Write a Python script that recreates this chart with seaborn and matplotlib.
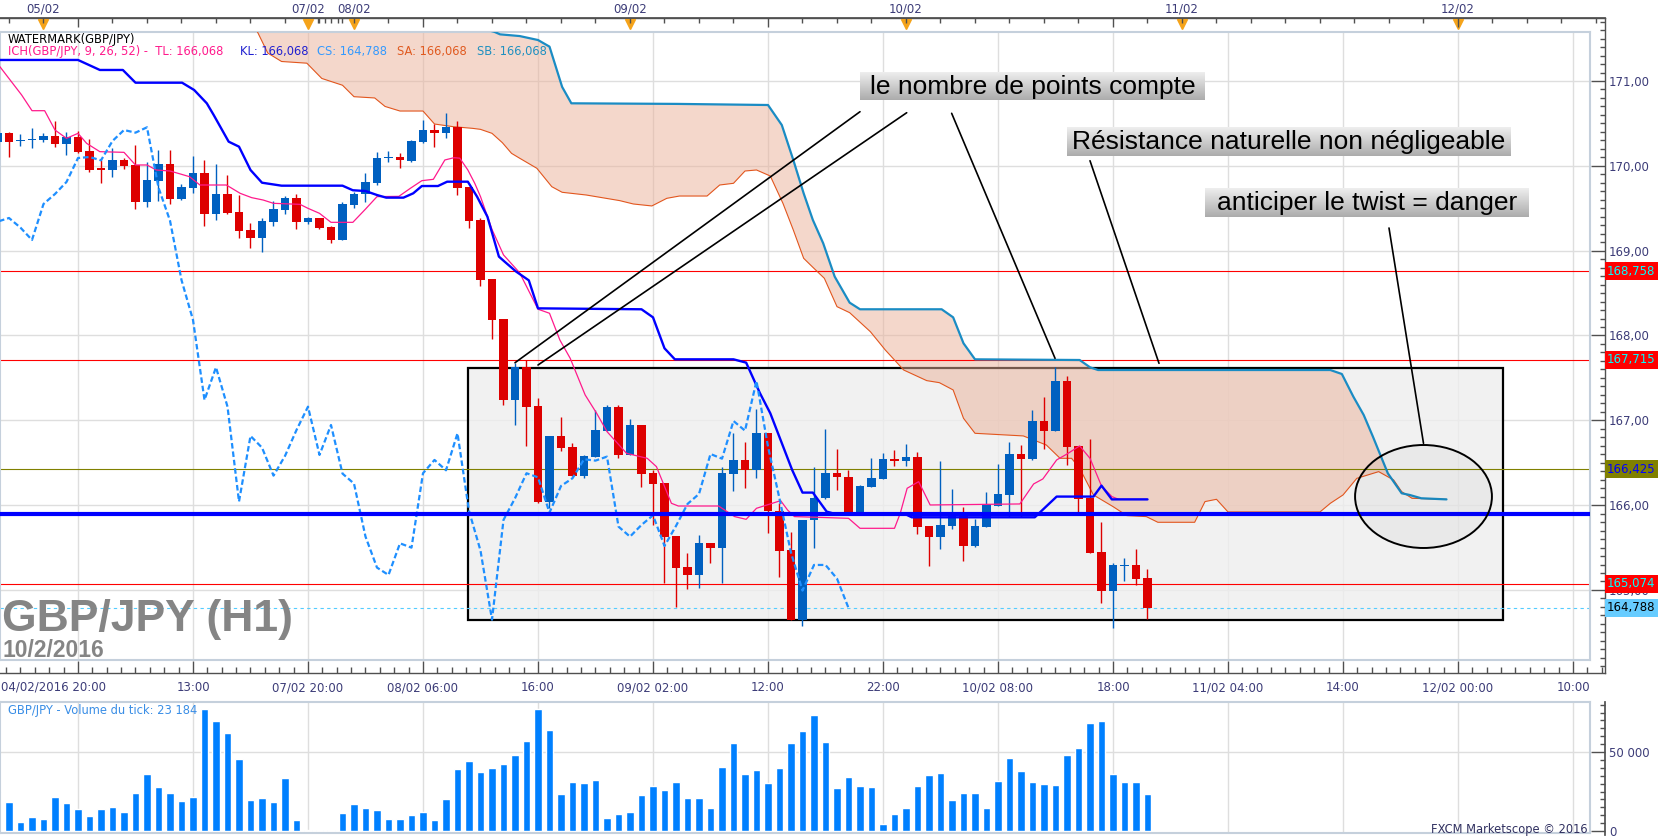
import numpy as np
import seaborn as sns
import matplotlib
matplotlib.use("Agg")
import matplotlib.pyplot as plt
from matplotlib import transforms
from matplotlib.patches import Rectangle, Ellipse
from matplotlib.colors import LinearSegmentedColormap
from matplotlib.ticker import FixedLocator, MultipleLocator, FuncFormatter

# ---- hourly candles GBP/JPY (bar index 0 = 04/02 20:00) ----
opens = [170.277, 170.383, 170.289, 170.301, 170.309, 170.352, 170.261, 170.340, 170.175, 169.963,
         169.951, 170.069, 170.010, 169.578, 169.825, 170.022, 169.613, 169.743, 169.916, 169.436,
         169.668, 169.456, 169.244, 169.153, 169.342, 169.483, 169.621, 169.342, 169.385, 169.279,
         169.126, 169.542, 169.664, 169.798, 170.088, 170.104, 170.061, 170.281, 170.422, 170.391,
         170.454, 169.751, 169.362, 168.666, 168.195, 167.240, 167.625, 167.169, 166.042, 166.816,
         166.686, 166.348, 166.572, 166.878, 167.161, 166.592, 166.945, 166.376, 166.258, 165.637,
         165.272, 165.177, 165.550, 165.499, 166.372, 166.533, 166.411, 166.847, 165.932, 165.472,
         164.647, 165.826, 166.081, 166.376, 166.328, 165.912, 166.218, 166.313, 166.545, 166.525,
         166.572, 165.755, 165.629, 165.755, 165.884, 165.519, 165.747, 165.990, 166.124, 166.603,
         166.548, 166.992, 166.878, 167.464, 166.698, 166.089, 165.452, 164.993, 165.283, 165.295,
         165.142]
highs = [170.395, 170.395, 170.371, 170.442, 170.391, 170.529, 170.403, 170.411, 170.312, 170.069,
         170.206, 170.096, 170.246, 170.049, 170.187, 170.191, 169.786, 170.116, 170.069, 170.022,
         169.892, 169.656, 169.322, 169.381, 169.586, 169.648, 169.668, 169.401, 169.389, 169.291,
         169.578, 169.696, 169.916, 170.167, 170.175, 170.151, 170.309, 170.540, 170.493, 170.619,
         170.528, 169.755, 169.381, 168.670, 168.200, 167.672, 167.711, 167.260, 166.820, 167.036,
         166.729, 166.590, 167.122, 167.181, 167.181, 167.012, 166.950, 166.415, 166.262, 165.640,
         165.440, 165.649, 165.552, 166.454, 166.847, 166.741, 167.130, 166.850, 166.022, 165.688,
         165.830, 166.454, 166.898, 166.662, 166.415, 166.238, 166.560, 166.611, 166.650, 166.721,
         166.627, 165.760, 166.521, 166.191, 165.983, 165.837, 166.156, 166.486, 166.745, 166.709,
         167.122, 167.275, 167.629, 167.523, 166.700, 166.784, 165.802, 165.323, 165.378, 165.484,
         165.248]
lows = [170.246, 170.108, 170.238, 170.214, 170.285, 170.226, 170.128, 170.155, 169.931, 169.802,
        169.872, 169.963, 169.495, 169.519, 169.586, 169.550, 169.597, 169.684, 169.291, 169.362,
        169.428, 169.153, 169.036, 168.988, 169.291, 169.436, 169.256, 169.318, 169.256, 169.094,
        169.120, 169.507, 169.578, 169.774, 170.049, 169.971, 170.041, 170.270, 170.226, 170.332,
        169.656, 169.271, 168.584, 167.959, 167.181, 166.945, 166.698, 166.022, 165.963, 166.643,
        166.340, 166.325, 166.570, 166.875, 166.560, 166.588, 166.218, 165.767, 165.079, 164.804,
        165.008, 165.028, 165.315, 165.079, 166.167, 166.207, 166.325, 165.668, 165.157, 164.647,
        164.576, 165.492, 166.078, 166.179, 165.908, 165.908, 166.210, 166.308, 166.462, 166.462,
        165.660, 165.283, 165.484, 165.723, 165.346, 165.511, 165.745, 165.988, 165.857, 165.857,
        166.533, 166.666, 166.876, 166.474, 165.920, 165.440, 164.851, 164.550, 165.110, 165.059,
        164.655]
closes = [170.383, 170.285, 170.305, 170.320, 170.352, 170.261, 170.336, 170.167, 169.951, 169.955,
          170.069, 170.002, 169.578, 169.833, 170.022, 169.613, 169.751, 169.916, 169.436, 169.668,
          169.448, 169.236, 169.153, 169.350, 169.491, 169.621, 169.342, 169.385, 169.271, 169.126,
          169.550, 169.668, 169.810, 170.092, 170.104, 170.065, 170.293, 170.422, 170.391, 170.454,
          169.743, 169.354, 168.654, 168.183, 167.240, 167.625, 167.161, 166.042, 166.816, 166.678,
          166.348, 166.580, 166.886, 167.161, 166.592, 166.945, 166.372, 166.254, 165.629, 165.264,
          165.177, 165.550, 165.499, 166.376, 166.533, 166.411, 166.847, 165.932, 165.464, 164.650,
          165.826, 166.081, 166.376, 166.328, 165.912, 166.226, 166.317, 166.541, 166.525, 166.572,
          165.747, 165.629, 165.767, 165.880, 165.519, 165.755, 166.014, 166.132, 166.603, 166.548,
          166.992, 166.878, 167.464, 166.690, 166.077, 165.440, 164.993, 165.295, 165.295, 165.134,
          164.788]
volumes = [24700, 18360, 5700, 8860, 7600, 21500, 17700, 13900, 9500, 13900,
           15200, 12000, 24100, 36100, 27900, 24100, 19000, 21500, 77200, 69600,
           62000, 45600, 19600, 20900, 18400, 33500, 7000, 400, 400, 400,
           11400, 17100, 14600, 13300, 7600, 7600, 10100, 12000, 7000, 20300,
           39200, 44300, 37300, 39900, 42400, 48100, 57000, 77200, 63900, 23400,
           31000, 30400, 32300, 8200, 10800, 12000, 22800, 28500, 26000, 31000,
           20900, 20900, 14600, 40500, 55700, 36100, 38600, 30400, 39900, 55700,
           63300, 73400, 56300, 27200, 34200, 28500, 27900, 4400, 10800, 14600,
           28500, 35400, 36700, 19600, 24100, 24100, 14600, 31650, 46200, 38000,
           31000, 29750, 29100, 48100, 52500, 68400, 69600, 36100, 31000, 31000,
           23184]

# ---- ichimoku lines (vertices) ----
tenkan_x = [0.2, 2.1, 3.0, 4.1, 5.0, 6.0, 7.0, 7.75, 8.9, 11.0, 12.0, 13.0, 13.8, 15.0, 16.0, 16.7,
            17.6, 19.9, 21.1, 22.1, 23.1, 24.0, 26.3, 27.0, 28.0, 29.0, 30.9, 32.0, 33.0, 34.9, 35.9,
            36.9, 37.9, 38.9, 39.7, 40.2, 40.9, 41.5, 42.0, 43.0, 44.0, 45.4, 47.0, 48.0, 48.9, 49.8,
            51.1, 52.1, 53.0, 54.7, 56.5, 57.3, 58.6, 59.2, 62.7, 64.1, 65.1, 66.0, 68.1, 68.7, 69.3,
            74.0, 75.0, 78.0, 78.5, 79.1, 80.1, 81.1, 88.9, 90.1, 90.9, 92.1, 93.0, 94.1, 95.0, 96.0,
            96.9, 97.5, 100.0]
tenkan_y = [171.17, 170.835, 170.65, 170.65, 170.422, 170.324, 170.383, 170.265, 170.167, 170.159,
            170.01, 170.01, 169.951, 169.939, 169.90, 169.872, 169.774, 169.774, 169.676, 169.625,
            169.597, 169.558, 169.546, 169.499, 169.44, 169.334, 169.334, 169.49, 169.637, 169.64,
            169.735, 169.825, 169.841, 170.069, 170.096, 170.09, 169.951, 169.794, 169.637, 169.25,
            168.95, 168.74, 168.31, 168.262, 167.947, 167.731, 167.299, 167.083, 166.867, 166.611,
            166.552, 166.454, 166.022, 165.99, 165.99, 165.865, 165.833, 165.963, 166.053, 165.943,
            165.865, 165.845, 165.727, 165.727, 165.904, 166.199, 166.277, 166.002, 166.014, 166.25,
            166.309, 166.533, 166.603, 166.698, 166.552, 166.226, 166.101, 166.068, 166.068]
kijun_x = [0.2, 7.0, 8.9, 10.9, 12.0, 16.05, 17.1, 18.2, 18.8, 20.1, 21.0, 22.0, 23.0, 24.7, 30.0,
           30.9, 32.0, 33.0, 33.8, 35.3, 36.15, 36.9, 38.3, 39.1, 40.9, 41.7, 42.6, 43.6, 44.1, 45.1,
           46.2, 47.0, 56.0, 57.0, 58.0, 58.9, 64.0, 65.1, 66.3, 67.2, 69.1, 70.0, 70.9, 72.1, 73.0,
           79.0, 79.5, 90.2, 91.0, 92.1, 95.3, 96.0, 96.9, 100.0]
kijun_y = [171.248, 171.248, 171.13, 171.13, 170.98, 170.98, 170.894, 170.737, 170.599, 170.285,
           170.226, 169.951, 169.801, 169.766, 169.766, 169.712, 169.703, 169.656, 169.625, 169.625,
           169.676, 169.762, 169.762, 169.813, 169.813, 169.637, 169.401, 168.93, 168.87, 168.753,
           168.65, 168.32, 168.309, 168.214, 167.849, 167.719, 167.719, 167.68, 167.32, 167.083,
           166.415, 166.148, 166.148, 165.924, 165.89, 165.89, 165.857, 165.857, 165.96, 166.101,
           166.101, 166.23, 166.068, 166.068]
senkou_a_x = [20.0, 22.6, 23.5, 24.7, 26.9, 28.2, 30.0, 31.0, 32.8, 33.7, 35.0, 37.0, 38.0, 39.6,
              41.3, 42.0, 43.0, 43.9, 44.7, 45.4, 46.9, 48.2, 49.1, 51.2, 54.1, 55.3, 56.9, 58.2,
              59.3, 61.7, 62.8, 64.0, 65.0, 66.0, 67.2, 68.3, 69.2, 70.1, 70.9, 71.9, 73.0, 74.1,
              75.9, 77.2, 78.8, 80.8, 81.9, 83.1, 84.0, 85.0, 89.2, 91.2, 92.4, 93.4, 94.1, 95.3,
              97.0, 98.2, 99.9, 100.9, 104.1, 105.0, 106.0, 107.0, 115.0, 115.9, 117.0, 118.2,
              120.1, 121.4, 122.1, 123.0, 126.0]
senkou_a_y = [171.80, 171.58, 171.33, 171.23, 171.21, 171.03, 170.95, 170.815, 170.80, 170.70,
              170.646, 170.646, 170.493, 170.462, 170.442, 170.43, 170.383, 170.273, 170.147, 170.09,
              169.971, 169.754, 169.688, 169.656, 169.59, 169.55, 169.527, 169.617, 169.644, 169.644,
              169.774, 169.794, 169.939, 169.951, 169.88, 169.558, 169.244, 168.91, 168.804, 168.674,
              168.34, 168.269, 168.045, 167.829, 167.593, 167.468, 167.444, 167.358, 167.024, 166.847,
              166.816, 166.709, 166.552, 166.552, 166.434, 166.12, 165.983, 165.877, 165.865, 165.798,
              165.798, 166.042, 166.069, 165.92, 165.92, 166.022, 166.12, 166.316, 166.395, 166.297,
              166.159, 166.081, 166.068]
senkou_b_x = [20.0, 43.2, 43.7, 45.4, 47.0, 48.0, 49.1, 49.9, 59.1, 67.0, 68.2, 69.2, 70.1, 70.9,
              71.8, 72.8, 74.1, 75.0, 82.1, 83.1, 84.0, 85.0, 94.1, 95.0, 95.7, 115.9, 116.9, 117.9,
              118.8, 119.6, 120.9, 122.1, 122.8, 123.8, 126.0]
senkou_b_y = [172.4, 171.58, 171.55, 171.53, 171.483, 171.405, 170.93, 170.737, 170.73, 170.717,
              170.481, 170.069, 169.676, 169.362, 169.087, 168.694, 168.387, 168.309, 168.309, 168.214,
              167.908, 167.719, 167.711, 167.625, 167.593, 167.593, 167.546, 167.279, 167.063, 166.808,
              166.375, 166.14, 166.12, 166.081, 166.068]
chikou_shift = 26

# ---- horizontal levels ----
level_prices = [168.758, 167.715, 166.425, 165.074]
level_colors = ["#ff0000", "#ff0000", "#808000", "#ff0000"]
level_text_colors = ["#00ffff", "#00ffff", "#0000ff", "#00ffff"]
support_price = 165.896
last_price = 164.788

# ---- axis texts ----
time_tick_pos = [7, 17, 27, 37, 47, 57, 67, 77, 87, 97, 107, 117, 127, 137]
time_tick_labels = ["", "13:00", "07/02 20:00", "08/02 06:00", "16:00", "09/02 02:00", "12:00",
                    "22:00", "10/02 08:00", "18:00", "11/02 04:00", "14:00", "12/02 00:00", "10:00"]
day_pos = [4, 27, 31, 55, 79, 103, 127]
day_labels = ["05/02", "07/02", "08/02", "09/02", "10/02", "11/02", "12/02"]

# ---- annotations (bar index, price) ----
zone_x = (40.9, 130.9)
zone_y = (164.646, 167.620)
arrows = [((45.0, 167.679), (75.0, 170.638)),
          ((47.0, 167.652), (79.06, 170.626)),
          ((82.97, 170.619), (91.96, 167.731)),
          ((95.0, 170.060), (101.0, 167.672)),
          ((121.0, 169.267), (124.0, 166.729))]
twist_center = (124.0, 166.102)

RED = "#dd0000"
BLUE = "#0060c0"

sns.set_theme(style="white")
plt.rcParams["font.family"] = ["DejaVu Sans"]

W, H = 1663, 838
fig = plt.figure(figsize=(W / 100, H / 100), dpi=100)
fig.patch.set_facecolor("white")


def pbox(x0, y0, x1, y1):
    return [x0 / W, 1 - y1 / H, (x1 - x0) / W, (y1 - y0) / H]


def bar_at(x):
    return (x + 2.5) / 11.5


def price_at(y):
    return 171 - (y - 81) / 84.83


def vol_at(y):
    return (831 - y) * 50000 / 79


AX_COL = "#505050"
LAB_COL = "#3c3c78"
BORDER = "#c5d0dc"
TICK_FS = 8.5

# frame with the scales
axf = fig.add_axes(pbox(0, 18, 1605, 673), zorder=0)
axf.set_xlim(bar_at(0), bar_at(1605))
axf.set_ylim(price_at(673), price_at(18))
axf.spines["left"].set_visible(False)
for s in ["top", "bottom", "right"]:
    axf.spines[s].set_color(AX_COL)
    axf.spines[s].set_linewidth(1)
axf.yaxis.tick_right()
axf.yaxis.set_major_locator(MultipleLocator(1))
axf.yaxis.set_minor_locator(MultipleLocator(0.1))
axf.yaxis.set_major_formatter(FuncFormatter(lambda v, _: f"{v:.2f}".replace(".", ",")))
axf.tick_params(axis="y", which="major", direction="in", length=10, width=1, color=AX_COL,
                labelsize=TICK_FS, labelcolor=LAB_COL, pad=3)
axf.tick_params(axis="y", which="minor", direction="in", length=3.6, width=1, color=AX_COL)

axtop = axf.twiny()
axtop.set_xlim(axf.get_xlim())
for s in ["left", "right", "bottom"]:
    axtop.spines[s].set_visible(False)
axtop.spines["top"].set_color(AX_COL)
axtop.xaxis.set_major_locator(FixedLocator(np.arange(7, 140, 30)))
axtop.xaxis.set_minor_locator(FixedLocator(list(np.arange(1, 141, 3)) + [27.9, 28.5, 29.0, 29.6, 30.0]))
axtop.tick_params(axis="x", which="major", direction="in", length=6.5, width=1, color=AX_COL,
                  labeltop=False, labelbottom=False)
axtop.tick_params(axis="x", which="minor", direction="in", length=3.6, width=1, color=AX_COL)

axf.xaxis.tick_bottom()
axf.set_xticks(time_tick_pos)
axf.set_xticklabels(time_tick_labels)
axf.xaxis.set_minor_locator(FixedLocator(np.arange(0.75, 141, 1.25)))
axf.tick_params(axis="x", which="major", direction="in", length=8.6, width=1, color=AX_COL,
                labelsize=TICK_FS, labelcolor=LAB_COL, pad=6)
axf.tick_params(axis="x", which="minor", direction="in", length=4.3, width=1, color=AX_COL)
fig.text(1 / W, 1 - 687 / H, "04/02/2016 20:00", fontsize=TICK_FS, color=LAB_COL, ha="left",
         va="center")

tr_top = transforms.blended_transform_factory(axf.transData, axf.transAxes)
for p, lab in zip(day_pos, day_labels):
    axf.annotate(lab, xy=(p, 1), xycoords=tr_top, xytext=(0, 9), textcoords="offset pixels",
                 ha="center", va="center", fontsize=TICK_FS, color=LAB_COL, annotation_clip=False)
axf.plot(day_pos, [1 - 6 / 655] * len(day_pos), transform=tr_top, marker="v", ls="none",
         ms=7, color="#f5a31a", clip_on=False, zorder=5)

# price panel
ax = fig.add_axes(pbox(0, 32, 1590, 660), zorder=1)
ax.set_facecolor("white")
for s in ax.spines.values():
    s.set_color(BORDER)
    s.set_linewidth(1.5)
ax.set_xticks(np.arange(7, 140, 10))
ax.set_yticks(np.arange(165, 172))
ax.grid(True, color="#dedede", lw=1)
ax.set_axisbelow(True)
ax.tick_params(length=0, labelbottom=False, labelleft=False)

# grey zone
ax.add_patch(Rectangle((zone_x[0], zone_y[0]), zone_x[1] - zone_x[0], zone_y[1] - zone_y[0],
                       fc="#eeeeee", ec="none", alpha=0.8, zorder=1.2))
ax.add_patch(Rectangle((zone_x[0], zone_y[0]), zone_x[1] - zone_x[0], zone_y[1] - zone_y[0],
                       fc="none", ec="black", lw=1.6, zorder=1.3))

# kumo
ax.fill(np.r_[senkou_a_x, senkou_b_x[::-1]], np.r_[senkou_a_y, senkou_b_y[::-1]],
        color="#ebb199", alpha=0.5, lw=0, zorder=1.5)

# levels
for p, c in zip(level_prices, level_colors):
    ax.axhline(p, color=c, lw=0.8, zorder=2)
ax.axhline(last_price, color="#55ccff", lw=0.8, ls=(0, (3, 3)), zorder=2)

sns.lineplot(x=senkou_a_x, y=senkou_a_y, ax=ax, color="#e2561e", lw=0.8, zorder=3)
sns.lineplot(x=senkou_b_x, y=senkou_b_y, ax=ax, color="#1a8cc4", lw=1.6, zorder=3)

# candles
idx = np.arange(len(closes))
o = np.array(opens)
c = np.array(closes)
col = np.where(c >= o, BLUE, RED)
ax.vlines(idx, lows, highs, colors=col, lw=1, zorder=4)
ax.bar(idx, np.maximum(np.abs(c - o), 0.014), bottom=np.minimum(o, c), width=0.7,
       color=col, lw=0, zorder=4.1)

sns.lineplot(x=tenkan_x, y=tenkan_y, ax=ax, color="#ff1a8c", lw=0.9, zorder=5)
sns.lineplot(x=kijun_x, y=kijun_y, ax=ax, color="#0000ff", lw=1.7, zorder=5)
sns.lineplot(x=idx[:-chikou_shift], y=c[chikou_shift:], ax=ax, color="#1e8fff", lw=1.6,
             linestyle=(0, (2.5, 1.3)), zorder=5)
ax.axhline(support_price, color="#0000ff", lw=3, zorder=6)

for (x0, y0), (x1, y1) in arrows:
    ax.plot([x0, x1], [y0, y1], color="black", lw=1.2, zorder=7)
ax.add_patch(Ellipse(twist_center, 11.9, 1.214, fc=(0, 0, 0, 0.03), ec="black", lw=1.4, zorder=7))

ax.set_xlim(bar_at(0), bar_at(1590))
ax.set_ylim(price_at(660), price_at(32))
ax.set_xlabel("")
ax.set_ylabel("")

# level labels on the price scale
tr_right = transforms.blended_transform_factory(axf.transAxes, axf.transData)
for p, bg, fg in zip(level_prices, level_colors, level_text_colors):
    axf.annotate(f"{p:.3f}".replace(".", ","), xy=(1, p), xycoords=tr_right, xytext=(2, 0),
                 textcoords="offset pixels", ha="left", va="center", fontsize=TICK_FS, color=fg,
                 bbox=dict(boxstyle="square,pad=0.2", fc=bg, ec="none"), annotation_clip=False,
                 zorder=10)
axf.annotate(f"{last_price:.3f}".replace(".", ","), xy=(1, last_price), xycoords=tr_right,
             xytext=(2, 0), textcoords="offset pixels", ha="left", va="center", fontsize=TICK_FS,
             color="black", bbox=dict(boxstyle="square,pad=0.2", fc="#66ccff", ec="none"),
             annotation_clip=False, zorder=10)

# volume panel
axvf = fig.add_axes(pbox(0, 702, 1605, 835), zorder=0)
axvf.set_xlim(bar_at(0), bar_at(1605))
axvf.set_ylim(vol_at(835), vol_at(702))
for s in ["left", "top", "bottom"]:
    axvf.spines[s].set_visible(False)
axvf.spines["right"].set_color(AX_COL)
axvf.yaxis.tick_right()
axvf.set_xticks([])
axvf.yaxis.set_major_locator(MultipleLocator(50000))
axvf.yaxis.set_minor_locator(MultipleLocator(5000))
axvf.yaxis.set_major_formatter(FuncFormatter(lambda v, _: f"{int(v):,}".replace(",", " ")))
axvf.tick_params(axis="y", which="major", direction="in", length=10, width=1, color=AX_COL,
                 labelsize=TICK_FS, labelcolor=LAB_COL, pad=3)
axvf.tick_params(axis="y", which="minor", direction="in", length=3.6, width=1, color=AX_COL)

axv = fig.add_axes(pbox(0, 702, 1590, 833), zorder=1)
sns.barplot(x=idx, y=volumes, ax=axv, color="#0080ff", saturation=1, width=0.66,
            errorbar=None, zorder=2)
axv.set_facecolor("white")
for s in axv.spines.values():
    s.set_color(BORDER)
    s.set_linewidth(1.5)
axv.set_xticks(np.arange(7, 140, 10))
axv.set_yticks([50000])
axv.grid(True, color="#dedede", lw=1)
axv.set_axisbelow(True)
axv.tick_params(length=0, labelbottom=False, labelleft=False)
axv.set_xlim(bar_at(0), bar_at(1590))
axv.set_ylim(vol_at(833), vol_at(702))
axv.set_xlabel("")
axv.set_ylabel("")

# texts
fig.text(8 / W, 1 - 710 / H, f"GBP/JPY - Volume du tick: {volumes[-1]:,}".replace(",", " "),
         fontsize=8.3, color="#3a8ee6", va="center")
fig.text(1588 / W, 1 - 829 / H, "FXCM Marketscope © 2016", fontsize=8.3, color="#303060",
         ha="right", va="center")
fig.text(8 / W, 1 - 39 / H, "WATERMARK(GBP/JPY)", fontsize=8.3, color="black", va="center")
legend_items = [(8, "ICH(GBP/JPY, 9, 26, 52) -  TL: 166,068", "#ff1a8c"),
                (240, "KL: 166,068", "#2020d0"),
                (317, "CS: 164,788", "#3399ff"),
                (397, "SA: 166,068", "#e05a20"),
                (477, "SB: 166,068", "#2090c0")]
for x, s, colr in legend_items:
    fig.text(x / W, 1 - 52 / H, s, fontsize=8.3, color=colr, va="center")

fig.text(2 / W, 1 - 631 / H, "GBP/JPY (H1)", fontsize=32, fontweight="bold", color="#858585",
         family="Liberation Sans", va="baseline")
fig.text(2 / W, 1 - 657 / H, "10/2/2016", fontsize=16.5, fontweight="bold", color="#858585",
         family="Liberation Sans", va="baseline")

# grey gradient labels
box_cmap = LinearSegmentedColormap.from_list("box", ["#eeeeee", "#acacac"])
grad = np.linspace(0, 1, 64).reshape(-1, 1)
boxes = [((860, 72, 1205, 100), "le nombre de points compte"),
         ((1067, 127, 1511, 156), "Résistance naturelle non négligeable"),
         ((1205, 188, 1529, 217), "anticiper le twist = danger")]
for (x0, y0, x1, y1), s in boxes:
    bax = fig.add_axes(pbox(x0, y0, x1, y1), zorder=10)
    bax.imshow(grad, aspect="auto", cmap=box_cmap, extent=(0, 1, 0, 1), interpolation="bilinear")
    bax.set_axis_off()
    bax.text(0.5, 0.48, s, ha="center", va="center", fontsize=19, family="Liberation Sans",
             color="black", transform=bax.transAxes)

fig.savefig("out.png", dpi=100)
